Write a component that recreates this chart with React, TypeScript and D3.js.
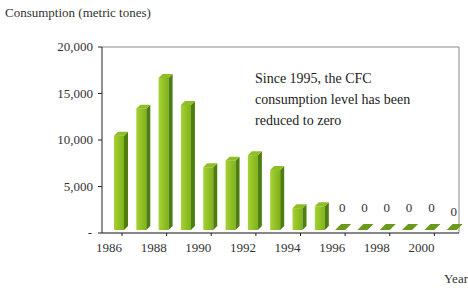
import React, { useEffect, useRef } from 'react';
import * as d3 from 'd3';

const years = [1986, 1987, 1988, 1989, 1990, 1991, 1992, 1993, 1994, 1995, 1996, 1997, 1998, 1999, 2000, 2001];
const consumption = [10900, 13800, 17100, 14200, 7500, 8200, 8800, 7200, 3100, 3300, 0, 0, 0, 0, 0, 0];
const yTicks = [0, 5000, 10000, 15000, 20000];
const xLabelYears = [1986, 1988, 1990, 1992, 1994, 1996, 1998, 2000];
const noteLines = ['Since 1995, the CFC', 'consumption level has been', 'reduced to zero'];

const W = 468;
const H = 288;
const FONT = 'Liberation Serif, Times New Roman, DejaVu Serif, serif';

const App: React.FC = () => {
    const ref = useRef<SVGSVGElement>(null);

    useEffect(() => {
        if (!ref.current) return;
        const svg = d3.select(ref.current);
        svg.selectAll('*').remove();

        const left = 102, right = 459, top = 47, bottom = 233;

        const x = d3.scaleBand<number>()
            .domain(years)
            .range([left, right])
            .paddingInner(0);

        const y = d3.scaleLinear()
            .domain([0, 20000])
            .range([bottom, top]);

        // frame top + right
        svg.append('path')
            .attr('d', `M${left},${top}H${right}V${bottom}`)
            .attr('fill', 'none')
            .attr('stroke', '#8a8a8a')
            .attr('stroke-width', 1);

        // y axis
        const yAxis = svg.append('g');
        yAxis.append('line')
            .attr('x1', left).attr('x2', left)
            .attr('y1', top).attr('y2', bottom)
            .attr('stroke', '#222');
        yAxis.selectAll('.yt')
            .data(yTicks)
            .enter().append('line')
            .attr('x1', left - 4).attr('x2', left)
            .attr('y1', d => y(d)).attr('y2', d => y(d))
            .attr('stroke', '#222');
        yAxis.selectAll('.yl')
            .data(yTicks)
            .enter().append('text')
            .attr('x', d => d === 0 ? 92 : 93)
            .attr('y', d => y(d) + 4)
            .attr('text-anchor', 'end')
            .style('font-family', FONT)
            .attr('font-size', 13)
            .attr('fill', '#333')
            .text(d => d === 0 ? '-' : d3.format(',')(d));

        // bars (pseudo 3D)
        const fw = 10, dx = 4, dy = 4;
        const off = 18;
        const base = y(0) - 3;
        const g = svg.append('g');
        const defs = svg.append('defs');
        const grad = defs.append('linearGradient').attr('id', 'front').attr('x1', 0).attr('x2', 1);
        grad.append('stop').attr('offset', '0%').attr('stop-color', '#a6d234');
        grad.append('stop').attr('offset', '100%').attr('stop-color', '#7fb21a');

        years.forEach((yr, i) => {
            const v = consumption[i];
            const x0 = (x(yr) || 0) + off - fw / 2 - 1;
            if (v > 0) {
                const yt = y(v) + dy;
                g.append('rect')
                    .attr('x', x0).attr('y', yt)
                    .attr('width', fw).attr('height', base - yt)
                    .attr('fill', 'url(#front)');
                g.append('path')
                    .attr('d', `M${x0 + fw},${yt}L${x0 + fw + dx},${yt - dy}L${x0 + fw + dx},${base - dy}L${x0 + fw},${base}Z`)
                    .attr('fill', '#4e7d10');
                g.append('path')
                    .attr('d', `M${x0},${yt}L${x0 + dx},${yt - dy}L${x0 + fw + dx},${yt - dy}L${x0 + fw},${yt}Z`)
                    .attr('fill', '#8fbe26');
            } else {
                g.append('path')
                    .attr('d', `M${x0 - 2},${base}L${x0 + fw - 2},${base}L${x0 + fw + dx},${base - dy - 2}L${x0 + dx},${base - dy - 2}Z`)
                    .attr('fill', '#6a9a1c');
                g.append('text')
                    .attr('x', x0 + fw / 2)
                    .attr('y', i === years.length - 1 ? 216 : 212)
                    .attr('text-anchor', 'middle')
                    .style('font-family', FONT)
                    .attr('font-size', 13)
                    .attr('fill', '#333')
                    .text('0');
            }
        });

        // x axis
        const xAxis = svg.append('g');
        xAxis.append('line')
            .attr('x1', left).attr('x2', right)
            .attr('y1', bottom).attr('y2', bottom)
            .attr('stroke', '#111')
            .attr('stroke-width', 1.2);
        xAxis.selectAll('.xt')
            .data(xLabelYears)
            .enter().append('line')
            .attr('x1', d => (x(d) || 0) + 20).attr('x2', d => (x(d) || 0) + 20)
            .attr('y1', bottom).attr('y2', bottom + 3)
            .attr('stroke', '#222');
        xAxis.selectAll('.xl')
            .data(xLabelYears)
            .enter().append('text')
            .attr('x', d => (x(d) || 0) + 7)
            .attr('y', 252)
            .attr('text-anchor', 'middle')
            .style('font-family', FONT)
            .attr('font-size', 13)
            .attr('fill', '#333')
            .text(d => String(d));

        // titles
        svg.append('text')
            .attr('x', 5).attr('y', 17)
            .style('font-family', FONT)
            .attr('font-size', 13)
            .attr('fill', '#333')
            .text('Consumption (metric tones)');
        svg.append('text')
            .attr('x', 468).attr('y', 283)
            .attr('text-anchor', 'end')
            .style('font-family', FONT)
            .attr('font-size', 13)
            .attr('fill', '#333')
            .text('Year');

        // note
        svg.append('g').selectAll('text')
            .data(noteLines)
            .enter().append('text')
            .attr('x', 255)
            .attr('y', (_, i) => 83 + i * 21)
            .style('font-family', FONT)
            .attr('font-size', 14)
            .attr('fill', '#222')
            .text(d => d);
    }, []);

    return (
        <svg ref={ref} width={W} height={H}
            style={{ position: 'absolute', left: 0, top: 0, background: '#fff' }} />
    );
};

export default App;
